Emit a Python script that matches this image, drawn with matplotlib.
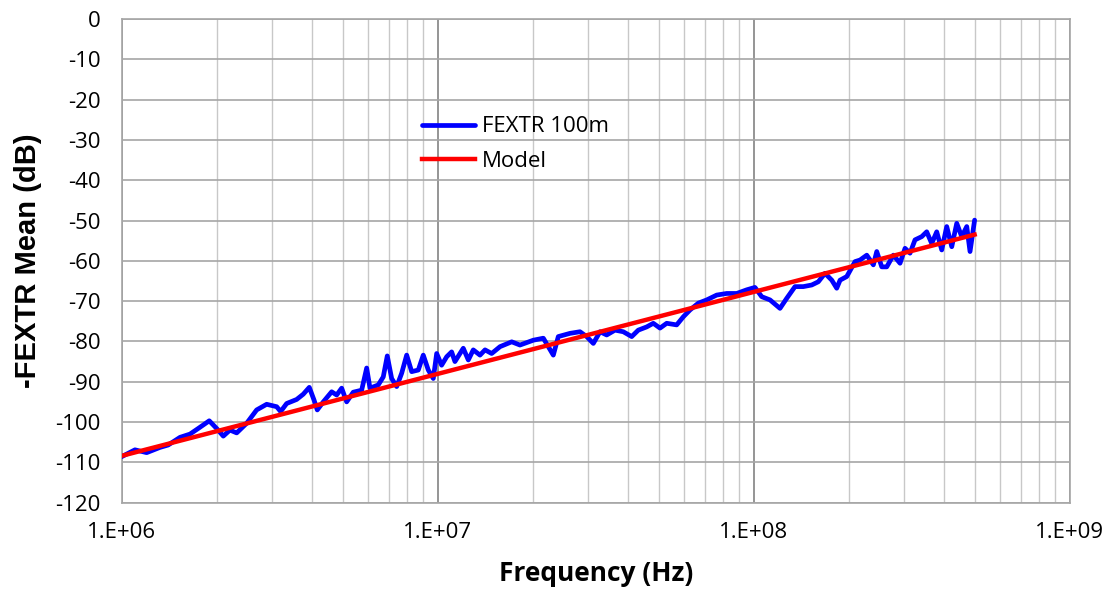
#!/usr/bin/env python3
"""
-FEXTR mean vs frequency, measured 100m cable and model fit.
"""
import numpy as np
import matplotlib
matplotlib.use("Agg")
from matplotlib import pyplot as plt
from matplotlib.ticker import FixedLocator, LogLocator, FuncFormatter, NullFormatter

###
# measured -FEXTR, 100m (frequency in MHz, level in dB)
freq_mhz = [1.00, 1.102, 1.200, 1.322, 1.404, 1.530, 1.645, 1.747, 1.893, 1.998,
            2.097, 2.201, 2.312, 2.487, 2.674, 2.876, 3.094, 3.185, 3.328, 3.579,
            3.755, 3.924, 4.060, 4.159, 4.345, 4.619, 4.790, 4.968, 5.152, 5.406,
            5.747, 5.961, 6.106, 6.486, 6.727, 6.926, 7.151, 7.418, 7.692, 7.978,
            8.274, 8.682, 9.003, 9.339, 9.685, 9.927, 10.29, 10.68, 11.07, 11.34,
            12.05, 12.50, 12.96, 13.61, 14.12, 14.82, 15.75, 17.15, 18.21, 20.07,
            21.59, 23.22, 24.08, 26.22, 28.20, 29.61, 31.08, 32.63, 34.26, 36.40,
            38.66, 41.11, 43.13, 45.85, 48.11, 50.52, 53.05, 57.05, 59.86, 62.86,
            66.80, 71.01, 76.36, 82.14, 88.35, 95.0, 100.9, 106.0, 112.6, 121.1,
            127.2, 135.1, 143.5, 152.6, 160.1, 168.1, 176.6, 183.1, 187.6, 197.0,
            209.2, 217.0, 227.9, 239.1, 245.1, 254.2, 263.6, 276.6, 290.4, 301.2,
            312.3, 323.9, 340.1, 352.7, 365.8, 379.4, 393.5, 408.1, 423.3, 439.0,
            455.2, 472.2, 483.6, 500.0]
fextr_db = [-108.6, -106.9, -107.6, -106.3, -105.7, -103.8, -103.0, -101.6, -99.7, -101.6,
            -103.5, -102.0, -102.7, -100.3, -97.0, -95.6, -96.2, -97.4, -95.4, -94.4,
            -93.1, -91.4, -94.5, -97.0, -95.0, -92.5, -93.3, -91.6, -95.0, -92.6,
            -92.1, -86.6, -91.6, -90.8, -88.8, -83.6, -89.2, -91.2, -87.9, -83.4,
            -87.5, -87.1, -83.4, -87.1, -89.2, -83.0, -85.9, -83.8, -82.6, -85.0,
            -81.7, -84.6, -82.1, -83.4, -82.1, -83.0, -81.3, -80.1, -80.9, -79.7,
            -79.2, -83.4, -78.8, -78.0, -77.6, -78.8, -80.5, -77.6, -78.4, -77.2,
            -77.6, -78.8, -77.2, -76.4, -75.5, -76.7, -75.5, -75.9, -73.9, -72.2,
            -70.5, -69.7, -68.5, -68.1, -68.1, -67.2, -66.6, -68.9, -69.7, -71.8,
            -69.3, -66.4, -66.4, -66.0, -65.2, -63.1, -64.8, -66.8, -64.8, -63.9,
            -60.2, -59.8, -58.6, -61.0, -57.7, -61.5, -61.5, -58.6, -60.6, -56.9,
            -58.1, -54.8, -54.0, -52.8, -55.7, -52.8, -57.3, -51.5, -56.5, -50.7,
            -54.0, -51.5, -57.7, -49.9]

# model line end points
model_mhz = [1.0, 500.0]
model_db = [-108.4, -53.5]

xticks = [1e6, 1e7, 1e8, 1e9]

###
plt.rcParams['font.family'] = ['Open Sans', 'DejaVu Sans']
plt.rcParams['axes.unicode_minus'] = False

fig = plt.figure(figsize=(11.12, 5.98), dpi=100)
ax = fig.add_axes([0.1094, 0.1595, 0.8526, 0.8087])

f_hz = np.array(freq_mhz) * 1e6
ax.plot(f_hz, fextr_db, color='#0000FF', lw=3.4, solid_joinstyle='round', solid_capstyle='round',
        label='FEXTR 100m', zorder=3)
ax.plot(np.array(model_mhz) * 1e6, model_db, color='#FF0000', lw=3.2, label='Model', zorder=4)

ax.set_xscale('log')
ax.set_xlim(1e6, 1e9)
ax.set_ylim(-120, 0)
ax.set_yticks(np.arange(-120, 1, 10))
ax.xaxis.set_major_locator(FixedLocator(xticks))
ax.xaxis.set_major_formatter(FuncFormatter(lambda v, p: "1.E+{:02d}".format(int(round(np.log10(v))))))
ax.xaxis.set_minor_locator(LogLocator(base=10, subs=np.arange(2, 10)))
ax.xaxis.set_minor_formatter(NullFormatter())

ax.grid(axis='y', which='major', color='#a6a6a6', lw=1.2)
ax.grid(axis='x', which='major', color='#8c8c8c', lw=1.3)
ax.grid(axis='x', which='minor', color='#c8c8c8', lw=1.0)
ax.set_axisbelow(True)
for s in ax.spines.values():
  s.set_color('#a6a6a6')
  s.set_linewidth(1.2)

ax.tick_params(axis='both', which='both', length=0, labelsize=16, colors='black')
ax.tick_params(axis='y', pad=15)
ax.tick_params(axis='x', pad=14)

ax.set_xlabel('Frequency (Hz)', fontsize=19, fontweight='bold', labelpad=12)
ax.set_ylabel('-FEXTR Mean (dB)', fontsize=21, fontweight='bold', family=['Liberation Sans', 'DejaVu Sans'], labelpad=10)

ax.legend(loc='center left', bbox_to_anchor=(0.3168, 0.7415), frameon=False, fontsize=16,
          handlelength=2.4, handletextpad=0.3, labelspacing=0.6, borderpad=0, borderaxespad=0)

plt.savefig("out.png", format="png")
